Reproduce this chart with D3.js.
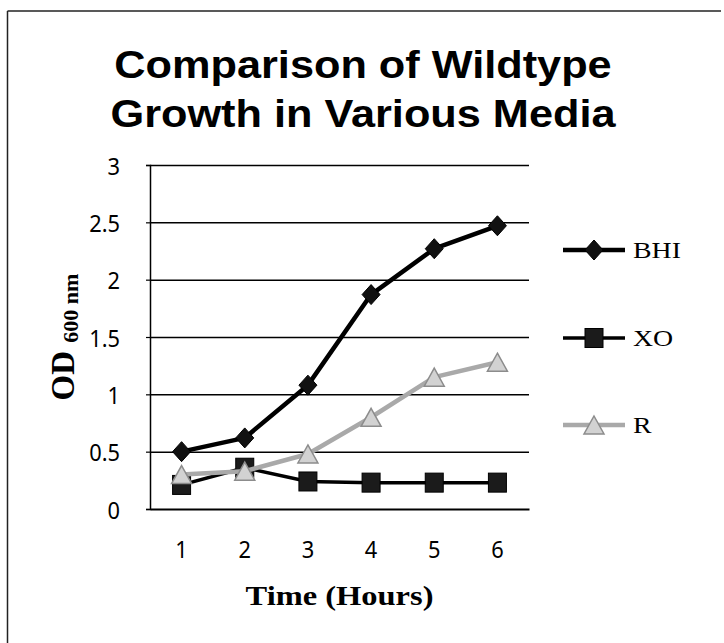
<!DOCTYPE html>
<html>
<head>
<meta charset="utf-8">
<script src="https://cdn.jsdelivr.net/npm/d3@7"></script>
<style>
  html, body { margin: 0; padding: 0; background: #fff; }
  svg { display: block; }
</style>
</head>
<body>
<svg id="chart" width="724" height="643"></svg>
<script>
// Optical density (600 nm) of wildtype cultures, read hourly
const hours = ["1", "2", "3", "4", "5", "6"];
const bhiValues = [0.50, 0.62, 1.08, 1.87, 2.27, 2.47];
const xoValues = [0.21, 0.36, 0.24, 0.23, 0.23, 0.23];
const rValues = [0.30, 0.33, 0.48, 0.80, 1.15, 1.28];
const seriesNames = ["BHI", "XO", "R"];
const yTicks = [0, 0.5, 1, 1.5, 2, 2.5, 3];
const yTickLabels = ["0", "0.5", "1", "1.5", "2", "2.5", "3"];
const titleLines = ["Comparison of Wildtype", "Growth in Various Media"];
const xTitle = "Time (Hours)";
const yTitleMain = "OD";
const yTitleSub = "600 nm";

const svg = d3.select("#chart");

const plot = { left: 150, right: 529, top: 165, bottom: 509 };

const x = d3.scaleBand().domain(hours).range([plot.left, plot.right]).padding(0);
const xc = d => x(d) + x.bandwidth() / 2;
const y = d3.scaleLinear().domain([0, 3]).range([plot.bottom, plot.top]);

// helper: text drawn with a horizontal stretch around its anchor point
function label(g, px, py, str, opts) {
  return g.append("text")
    .attr("transform", `translate(${px},${py}) scale(${opts.sx || 1},1)`)
    .attr("text-anchor", opts.anchor || "start")
    .attr("dominant-baseline", opts.baseline || "auto")
    .style("font-family", opts.family)
    .style("font-size", opts.size + "px")
    .style("font-weight", opts.weight || "normal")
    .attr("fill", "#000")
    .text(str);
}

// outer frame (top and left edges)
svg.append("line").attr("x1", 7.5).attr("y1", 11).attr("x2", 721).attr("y2", 11)
  .attr("stroke", "#222").attr("stroke-width", 1.5);
svg.append("line").attr("x1", 7.5).attr("y1", 11).attr("x2", 7.5).attr("y2", 643)
  .attr("stroke", "#222").attr("stroke-width", 1.5);

// title
const titleFont = { family: "'Liberation Sans', Arial, sans-serif", size: 39, weight: "bold", anchor: "middle", sx: 1.11 };
label(svg, 363, 78, titleLines[0], titleFont);
label(svg, 363, 127, titleLines[1], titleFont);

// horizontal gridlines
const gridAxis = d3.axisLeft(y).tickValues(yTicks.filter(v => v > 0))
  .tickSize(-(plot.right - plot.left)).tickFormat("");
const grid = svg.append("g").attr("transform", `translate(${plot.left},0)`).call(gridAxis);
grid.select(".domain").remove();
grid.selectAll(".tick line").attr("stroke", "#000").attr("stroke-width", 1.5);

// y axis with outward ticks
const yAxis = d3.axisLeft(y).tickValues(yTicks).tickSize(4).tickFormat("");
const yg = svg.append("g").attr("transform", `translate(${plot.left},0)`).call(yAxis);
yg.select(".domain").attr("stroke", "#000").attr("stroke-width", 1.5);
yg.selectAll(".tick line").attr("stroke", "#000").attr("stroke-width", 1.2);

// y tick labels
const tickFont = { family: "'Noto Sans', 'Open Sans', sans-serif", size: 23, anchor: "end", baseline: "central", sx: 0.95 };
yTicks.forEach((v, i) => label(svg, 120, y(v) + 1, yTickLabels[i], tickFont));

// x axis line
const xAxis = d3.axisBottom(x).tickSize(0).tickFormat("");
const xg = svg.append("g").attr("transform", `translate(0,${plot.bottom})`).call(xAxis);
xg.select(".domain").attr("stroke", "#000").attr("stroke-width", 2);

// x tick labels
hours.forEach(h => label(svg, xc(h), 549, h, { ...tickFont, anchor: "middle" }));

// axis titles
label(svg, (plot.left + plot.right) / 2, 605, xTitle,
  { family: "'Liberation Serif', 'Times New Roman', serif", size: 28, weight: "bold", anchor: "middle", sx: 1.16 });

const yt = svg.append("text")
  .attr("transform", `translate(74,${(plot.top + plot.bottom) / 2}) rotate(-90)`)
  .attr("text-anchor", "middle")
  .style("font-family", "'Liberation Serif', 'Times New Roman', serif")
  .style("font-weight", "bold")
  .attr("fill", "#000");
yt.append("tspan").style("font-size", "33px").text(yTitleMain + " ");
yt.append("tspan").style("font-size", "22px").attr("dy", 4).text(yTitleSub);

// marker shapes
const markers = {
  diamond: g => g.append("path").attr("d", "M0,-10L9,0L0,10L-9,0Z")
    .attr("fill", "#111").attr("stroke", "#000").attr("stroke-width", 1),
  square: g => g.append("rect").attr("x", -9).attr("y", -9.5).attr("width", 18).attr("height", 19)
    .attr("fill", "#1b1b1b").attr("stroke", "#000").attr("stroke-width", 1),
  triangle: g => g.append("path").attr("d", "M0,-9L10,9L-10,9Z")
    .attr("fill", "#d2d2d2").attr("stroke", "#8c8c8c").attr("stroke-width", 1.5)
};

const series = [
  { name: seriesNames[0], values: bhiValues, color: "#000", width: 4.5, marker: "diamond" },
  { name: seriesNames[1], values: xoValues, color: "#000", width: 3.5, marker: "square" },
  { name: seriesNames[2], values: rValues, color: "#a9a9a9", width: 4.5, marker: "triangle" }
];

const lineGen = d3.line().x((d, i) => xc(hours[i])).y(d => y(d));

series.forEach(s => {
  const g = svg.append("g");
  g.append("path").attr("d", lineGen(s.values))
    .attr("fill", "none").attr("stroke", s.color).attr("stroke-width", s.width)
    .attr("stroke-linejoin", "round");
  s.values.forEach((v, i) => {
    const m = g.append("g").attr("transform", `translate(${xc(hours[i])},${y(v)})`);
    markers[s.marker](m);
  });
});

// legend
const legendY = [250, 338, 425];
series.forEach((s, i) => {
  const g = svg.append("g").attr("transform", `translate(0,${legendY[i]})`);
  g.append("line").attr("x1", 563).attr("x2", 625).attr("y1", 0).attr("y2", 0)
    .attr("stroke", s.color).attr("stroke-width", s.width);
  markers[s.marker](g.append("g").attr("transform", "translate(594,0)"));
  label(g, 633, 0, s.name,
    { family: "'Liberation Serif', 'Times New Roman', serif", size: 24, baseline: "central", sx: 1.16 });
});
</script>
</body>
</html>
